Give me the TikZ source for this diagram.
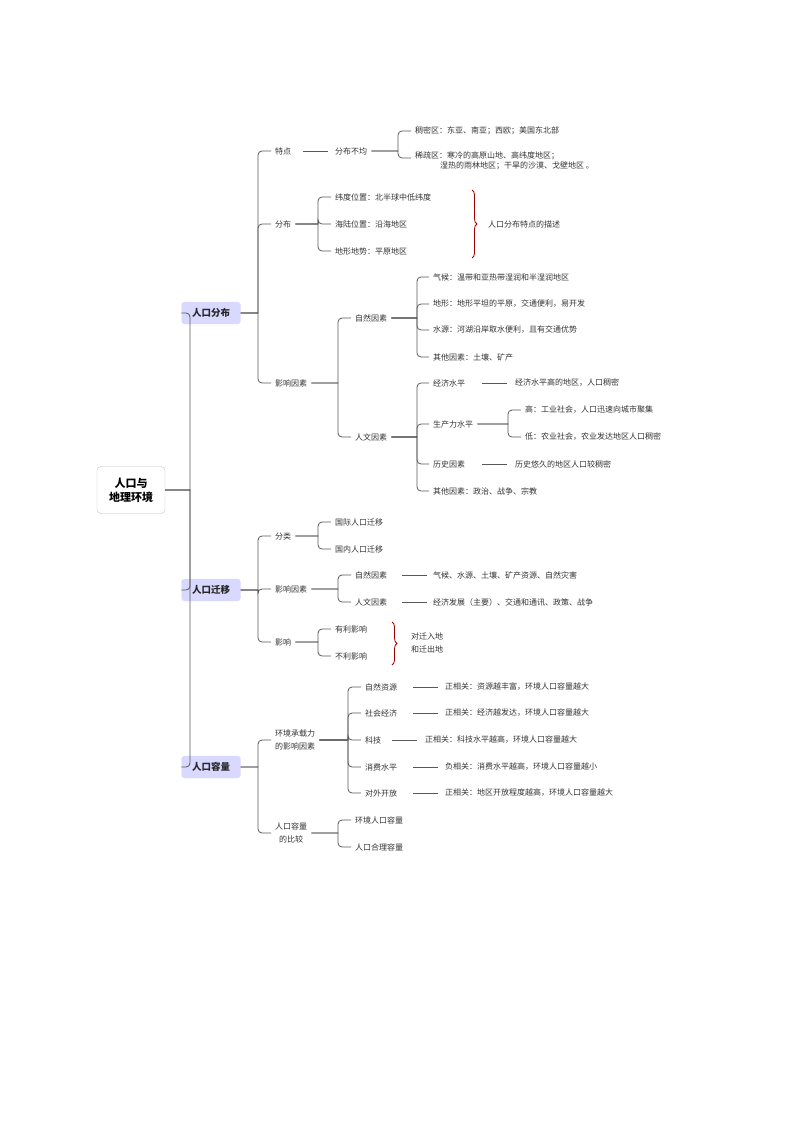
\documentclass[tikz,border=0pt]{standalone}
\usepackage{fontspec}
\setmainfont{Noto Sans CJK SC}
\usetikzlibrary{decorations.pathreplacing,calc}
\begin{document}
\begin{tikzpicture}[x=1pt,y=-1pt,
  t/.style={anchor=west,inner xsep=4pt,inner ysep=1pt,font=\fontsize{8}{10}\selectfont,text=black!80},
  l1/.style={fill=blue!15!white,draw=blue!12!white,rounded corners=3pt,minimum width=59pt,minimum height=22pt,font=\fontsize{9.5}{11}\selectfont\bfseries,text=black!85},
  conn/.style={draw=black!65,line width=0.8pt},
  br/.style={draw=red!60!black,line width=0.8pt,decorate,decoration={brace,amplitude=5pt}}]
\useasboundingbox (0,0) rectangle (794,1123);
\newcommand\lnk[3]{\draw[conn] let \p1=(#1.east), \p2=(#2.west) in (\p1) -- (#3,\y1) [rounded corners=4pt] -- (#3,\y2) -- (\p2);}
% root
\node[draw=black!25,rounded corners=4pt,minimum width=68pt,minimum height=47pt,align=center,font=\fontsize{11}{14}\selectfont\bfseries] (root) at (131,490) {人口与\\地理环境};
\node[l1] (A) at (211,313) {人口分布};
\node[l1] (B) at (211,590) {人口迁移};
\node[l1] (C) at (211,767) {人口容量};
\foreach \q in {A,B,C}{\lnk{root}{\q}{190}}
% A
\node[t] (a1) at (271,151) {特点};
\node[t] (a2) at (271,224) {分布};
\node[t] (a3) at (271,383) {影响因素};
\lnk{A}{a1}{258}\lnk{A}{a2}{258}\lnk{A}{a3}{258}
\node[t] (a11) at (331,151) {分布不均};
\draw[conn] (303,151) -- (328,151);
\node[t] (a111) at (411,131) {稠密区：东亚、南亚；西欧；美国东北部};
\node[t,anchor=north west,align=left] (a112) at (411,150.5) {稀疏区：寒冷的高原山地、高纬度地区；\\\hspace{25pt}湿热的雨林地区；干旱的沙漠、戈壁地区 。};
\coordinate (a112c) at (411,158);
\lnk{a11}{a111}{398}
\draw[conn] let \p1=(a11.east) in (\p1) -- (398,\y1) [rounded corners=4pt] -- (398,158) -- (a112c);
\node[t] (a21) at (331,197) {纬度位置：北半球中低纬度};
\node[t] (a22) at (331,224) {海陆位置：沿海地区};
\node[t] (a23) at (331,251) {地形地势：平原地区};
\lnk{a2}{a21}{318}\lnk{a2}{a22}{318}\lnk{a2}{a23}{318}
\draw[br] (472,190) -- (472,258);
\node[t] (a2d) at (484,224) {人口分布特点的描述};
\node[t] (a31) at (351,318) {自然因素};
\node[t] (a32) at (351,437) {人文因素};
\lnk{a3}{a31}{338}\lnk{a3}{a32}{338}
\node[t] (n1) at (429,277) {气候：温带和亚热带湿润和半湿润地区};
\node[t] (n2) at (429,304) {地形：地形平坦的平原，交通便利，易开发};
\node[t] (n3) at (429,330) {水源：河湖沿岸取水便利，且有交通优势};
\node[t] (n4) at (429,357) {其他因素：土壤、矿产};
\foreach \q in {n1,n2,n3,n4}{\lnk{a31}{\q}{417}}
\node[t] (h1) at (429,383) {经济水平};
\node[t] (h2) at (429,424) {生产力水平};
\node[t] (h3) at (429,464) {历史因素};
\node[t] (h4) at (429,491) {其他因素：政治、战争、宗教};
\foreach \q in {h1,h2,h3,h4}{\lnk{a32}{\q}{417}}
\node[t] (h11) at (511,383) {经济水平高的地区，人口稠密};
\draw[conn] (482,383) -- (507,383);
\node[t] (h21) at (521,410) {高：工业社会，人口迅速向城市聚集};
\node[t] (h22) at (521,437) {低：农业社会，农业发达地区人口稠密};
\lnk{h2}{h21}{508}\lnk{h2}{h22}{508}
\node[t] (h31) at (511,464) {历史悠久的地区人口较稠密};
\draw[conn] (482,464) -- (507,464);
% B
\node[t] (b1) at (271,536) {分类};
\node[t] (b2) at (271,589) {影响因素};
\node[t] (b3) at (271,642) {影响};
\lnk{B}{b1}{258}\lnk{B}{b2}{258}\lnk{B}{b3}{258}
\node[t] (b11) at (331,522) {国际人口迁移};
\node[t] (b12) at (331,549) {国内人口迁移};
\lnk{b1}{b11}{318}\lnk{b1}{b12}{318}
\node[t] (b21) at (351,575) {自然因素};
\node[t] (b22) at (351,602) {人文因素};
\lnk{b2}{b21}{338}\lnk{b2}{b22}{338}
\node[t] (b211) at (429,575) {气候、水源、土壤、矿产资源、自然灾害};
\node[t] (b221) at (429,602) {经济发展（主要）、交通和通讯、政策、战争};
\draw[conn] (402,575) -- (427,575);
\draw[conn] (402,602) -- (427,602);
\node[t] (b31) at (331,629) {有利影响};
\node[t] (b32) at (331,656) {不利影响};
\lnk{b3}{b31}{318}\lnk{b3}{b32}{318}
\draw[br] (392,622) -- (392,665);
\node[t,align=left,font=\fontsize{8}{13.5}\selectfont] (b3d) at (407,643) {对迁入地\\和迁出地};
% C
\node[t,align=left,font=\fontsize{8}{13.5}\selectfont] (c1) at (271,740) {环境承载力\\的影响因素};
\node[t,align=center,font=\fontsize{8}{13.5}\selectfont] (c2) at (271,833) {人口容量\\的比较};
\lnk{C}{c1}{258}\lnk{C}{c2}{258}
\node[t] (c11) at (361,687) {自然资源};
\node[t] (c12) at (361,713) {社会经济};
\node[t] (c13) at (361,740) {科技};
\node[t] (c14) at (361,767) {消费水平};
\node[t] (c15) at (361,793) {对外开放};
\foreach \q in {c11,c12,c13,c14,c15}{\lnk{c1}{\q}{348}}
\node[t] (d1) at (441,687) {正相关：资源越丰富，环境人口容量越大};
\node[t] (d2) at (441,713) {正相关：经济越发达，环境人口容量越大};
\node[t] (d3) at (421,740) {正相关：科技水平越高，环境人口容量越大};
\node[t] (d4) at (441,767) {负相关：消费水平越高，环境人口容量越小};
\node[t] (d5) at (441,793) {正相关：地区开放程度越高，环境人口容量越大};
\draw[conn] (413,687) -- (438,687);
\draw[conn] (413,713) -- (438,713);
\draw[conn] (392,740) -- (417,740);
\draw[conn] (413,767) -- (438,767);
\draw[conn] (413,793) -- (438,793);
\node[t] (c21) at (351,820) {环境人口容量};
\node[t] (c22) at (351,847) {人口合理容量};
\lnk{c2}{c21}{338}\lnk{c2}{c22}{338}
\end{tikzpicture}
\end{document}
